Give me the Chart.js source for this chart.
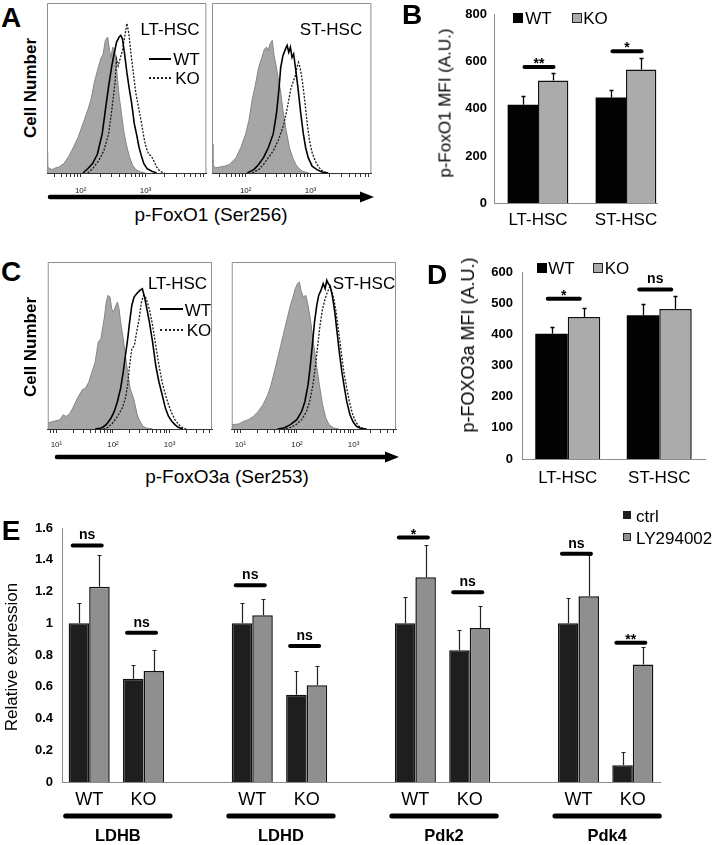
<!DOCTYPE html>
<html>
<head>
<meta charset="utf-8">
<title>p-FoxO figure</title>
<script src="https://cdn.jsdelivr.net/npm/chart.js@4.4.1/dist/chart.umd.min.js"></script>
<style>
    body { margin: 0; background: #fff; }
    #figure { position: relative; width: 714px; height: 845px; overflow: hidden; font-family: 'Liberation Sans', Arial, sans-serif; color: #000; }
    #figure canvas, #figure svg { position: absolute; }
    .txt { position: absolute; transform: translate(-50%, -50%); line-height: 1; white-space: nowrap; }
    .vert { transform: translate(-50%, -50%) rotate(-90deg); }
    .left { transform: translate(0, -50%); }
    .panel { font-size: 28px; font-weight: bold; }
    .f17 { font-size: 17px; }
    .f19 { font-size: 19px; }
    .sw { position: absolute; box-sizing: border-box; }
</style>
</head>
<body>
<div id="figure">
    <svg width="714" height="845" style="left:0;top:0">
        <line x1="50" y1="197" x2="364" y2="197" stroke="#000" stroke-width="4.5" stroke-linecap="round"/>
        <polygon points="374,197 360,191.5 360,202.5" fill="#000"/>
        <line x1="57" y1="457" x2="389" y2="457" stroke="#000" stroke-width="4.5" stroke-linecap="round"/>
        <polygon points="399,457 385,451.5 385,462.5" fill="#000"/>
    </svg>

    <canvas id="foxo1Lt" width="167" height="200" style="left:46px;top:2px"></canvas>
    <canvas id="foxo1St" width="167" height="200" style="left:211px;top:2px"></canvas>
    <canvas id="foxo3Lt" width="172" height="200" style="left:44px;top:261px"></canvas>
    <canvas id="foxo3St" width="172" height="200" style="left:228px;top:261px"></canvas>
    <canvas id="foxo1Mfi" width="314" height="240" style="left:400px;top:0px"></canvas>
    <canvas id="foxo3Mfi" width="314" height="255" style="left:400px;top:245px"></canvas>
    <canvas id="expression" width="714" height="345" style="left:0px;top:500px"></canvas>

    <!-- panel letters -->
    <div class="txt panel" style="left:11px;top:18px">A</div>
    <div class="txt panel" style="left:412px;top:15px">B</div>
    <div class="txt panel" style="left:11px;top:272px">C</div>
    <div class="txt panel" style="left:437px;top:275px">D</div>
    <div class="txt panel" style="left:11px;top:531px">E</div>

    <!-- A -->
    <div class="txt vert" style="left:30px;top:88px;font-size:17px;font-weight:bold">Cell Number</div>
    <div class="txt f17" style="left:170px;top:28.5px">LT-HSC</div>
    <div class="txt f17" style="left:331px;top:28.5px">ST-HSC</div>
    <div class="sw" style="left:149px;top:58px;width:22px;border-top:2px solid #000"></div>
    <div class="txt f17" style="left:186.5px;top:59px">WT</div>
    <div class="sw" style="left:149px;top:77px;width:22px;border-top:2px dotted #222"></div>
    <div class="txt f17" style="left:187.5px;top:78px">KO</div>
    <div class="txt f19" style="left:211px;top:214px">p-FoxO1 (Ser256)</div>

    <!-- C -->
    <div class="txt vert" style="left:30px;top:347px;font-size:17px;font-weight:bold">Cell Number</div>
    <div class="txt f17" style="left:177.5px;top:282.5px">LT-HSC</div>
    <div class="txt f17" style="left:364px;top:282.5px">ST-HSC</div>
    <div class="sw" style="left:160px;top:308px;width:23px;border-top:2px solid #000"></div>
    <div class="txt f17" style="left:198px;top:309.5px">WT</div>
    <div class="sw" style="left:160px;top:329px;width:23px;border-top:2px dotted #222"></div>
    <div class="txt f17" style="left:199px;top:330px">KO</div>
    <div class="txt f19" style="left:227px;top:475.5px">p-FoxO3a (Ser253)</div>

    <!-- B -->
    <div class="txt vert" style="left:445px;top:103px;font-size:17px">p-FoxO1 MFI (A.U.)</div>
    <div class="sw" style="left:513px;top:13px;width:10px;height:10px;background:#000"></div>
    <div class="txt f17" style="left:538.5px;top:18px">WT</div>
    <div class="sw" style="left:572px;top:13px;width:10px;height:10px;background:#ababab;border:1px solid #222"></div>
    <div class="txt f17" style="left:595.5px;top:18px">KO</div>

    <!-- D -->
    <div class="txt vert" style="left:468px;top:345px;font-size:18px">p-FOXO3a MFI (A.U.)</div>
    <div class="sw" style="left:537px;top:263px;width:10px;height:10px;background:#000"></div>
    <div class="txt f17" style="left:561.5px;top:268px">WT</div>
    <div class="sw" style="left:593px;top:263px;width:10px;height:10px;background:#ababab;border:1px solid #222"></div>
    <div class="txt f17" style="left:617px;top:268px">KO</div>

    <!-- E -->
    <div class="txt vert" style="left:11px;top:657px;font-size:17px">Relative expression</div>
    <div class="sw" style="left:623px;top:511px;width:8px;height:8px;background:#1e1e1e"></div>
    <div class="txt left f17" style="left:636px;top:516px">ctrl</div>
    <div class="sw" style="left:623px;top:533px;width:8px;height:8px;background:#8f8f8f;border:1px solid #222"></div>
    <div class="txt left f17" style="left:636px;top:538px">LY294002</div>
</div>

<script>
const family = "'Liberation Sans', Arial, sans-serif"

// ---- flow histograms: [log10 intensity, % of max height] ----
const foxo1LtIso = [[1.48, 12], [1.49, 5], [1.5, 3], [1.56, 2], [1.61, 3], [1.663, 3.5], [1.738, 5.5], [1.812, 9.5], [1.886, 15], [1.96, 21], [2.035, 29], [2.109, 37], [2.158, 43], [2.208, 53], [2.257, 60], [2.307, 67], [2.347, 70], [2.381, 78], [2.416, 80], [2.446, 72], [2.465, 68], [2.495, 74], [2.52, 73], [2.545, 67], [2.564, 57], [2.594, 45], [2.629, 35], [2.663, 25], [2.703, 17], [2.752, 9.5], [2.802, 4.5], [2.851, 2], [2.926, 0.6], [3.0, 0]]
const foxo1LtWt = [[2.035, 0], [2.109, 2.5], [2.183, 5.5], [2.257, 11], [2.332, 23], [2.381, 37], [2.431, 51], [2.48, 63], [2.515, 70], [2.554, 77], [2.594, 80], [2.619, 81], [2.644, 79], [2.678, 70], [2.713, 59], [2.752, 49], [2.787, 41], [2.827, 29], [2.861, 23], [2.901, 15], [2.941, 9.5], [2.975, 5.5], [3.025, 2.5], [3.099, 1], [3.173, 0]]
const foxo1LtKo = [[2.109, 0], [2.183, 2.5], [2.282, 7.5], [2.356, 13], [2.431, 23], [2.48, 37], [2.53, 53], [2.554, 67], [2.579, 63], [2.614, 68], [2.644, 72], [2.678, 80], [2.713, 88], [2.743, 82], [2.777, 70], [2.812, 59], [2.851, 47], [2.901, 37], [2.941, 29], [2.975, 21], [3.01, 15], [3.05, 11], [3.089, 10], [3.124, 7.5], [3.173, 3.5], [3.223, 1], [3.297, 0]]

const foxo1StIso = [[1.482, 17], [1.495, 5], [1.525, 3], [1.6, 3.5], [1.675, 4], [1.75, 5], [1.85, 9], [1.925, 15], [2.0, 23], [2.05, 31], [2.1, 43], [2.15, 52], [2.2, 62], [2.25, 68], [2.29, 73], [2.325, 74], [2.35, 72], [2.375, 76], [2.41, 78], [2.435, 70], [2.465, 64], [2.5, 56], [2.535, 49], [2.575, 37], [2.625, 25], [2.675, 15], [2.725, 9], [2.775, 5], [2.825, 2.5], [2.875, 1], [2.975, 0]]
const foxo1StWt = [[2.025, 0], [2.125, 2], [2.2, 5], [2.275, 9], [2.35, 15], [2.425, 23], [2.475, 35], [2.515, 50], [2.54, 62], [2.575, 69], [2.615, 73], [2.64, 75], [2.665, 71], [2.69, 74], [2.715, 68], [2.74, 70], [2.775, 60], [2.81, 49], [2.85, 35], [2.89, 23], [2.925, 15], [2.965, 9], [3.025, 4], [3.1, 2], [3.175, 0.6], [3.275, 0]]
const foxo1StKo = [[2.1, 0], [2.2, 2], [2.275, 5], [2.35, 9], [2.425, 13], [2.5, 19], [2.575, 27], [2.625, 35], [2.665, 43], [2.7, 50], [2.735, 54], [2.765, 57], [2.79, 62], [2.815, 65], [2.84, 62], [2.875, 54], [2.91, 43], [2.95, 29], [2.985, 19], [3.025, 12], [3.075, 7], [3.125, 3.5], [3.175, 1.5], [3.25, 0]]

const foxo3LtIso = [[0.85, 3.6], [0.949, 4.6], [1.062, 5.5], [1.12, 8.5], [1.17, 7.5], [1.232, 9], [1.288, 12.5], [1.373, 18.5], [1.458, 23.5], [1.514, 24.5], [1.571, 28], [1.627, 34], [1.684, 40], [1.74, 52], [1.785, 54], [1.825, 62], [1.853, 68], [1.881, 76], [1.91, 80], [1.949, 79], [1.977, 72], [2.011, 70], [2.051, 74], [2.079, 76], [2.107, 72], [2.136, 64], [2.181, 54], [2.22, 44], [2.26, 34], [2.305, 24], [2.362, 18.5], [2.39, 14.5], [2.429, 8.5], [2.475, 4.6], [2.531, 1.6], [2.588, 0.6], [2.701, 0]]
const foxo3LtWt = [[1.684, 0], [1.797, 0.6], [1.881, 2.6], [1.966, 6.6], [2.023, 10.5], [2.079, 16.5], [2.136, 24.5], [2.181, 34], [2.22, 44], [2.26, 54], [2.294, 64], [2.333, 74], [2.373, 79], [2.418, 81], [2.475, 83], [2.52, 84], [2.559, 79], [2.599, 72], [2.644, 64], [2.701, 52], [2.757, 38], [2.814, 28], [2.87, 20.5], [2.927, 12.5], [2.983, 7.5], [3.04, 4.6], [3.096, 2.6], [3.153, 1], [3.237, 0]]
const foxo3LtKo = [[1.825, 0], [1.91, 1], [1.994, 3.6], [2.079, 7.5], [2.164, 12.5], [2.22, 18.5], [2.26, 26.4], [2.294, 38], [2.333, 48], [2.379, 50], [2.418, 58], [2.463, 66], [2.503, 76], [2.542, 80], [2.576, 79], [2.616, 75], [2.655, 70], [2.701, 62], [2.757, 50], [2.814, 38], [2.87, 28], [2.927, 20.5], [2.983, 14.5], [3.04, 9.5], [3.096, 5.6], [3.153, 3], [3.209, 1.2], [3.294, 0]]

const foxo3StIso = [[0.85, 2.6], [0.971, 3], [1.057, 4.6], [1.142, 5.6], [1.228, 7.5], [1.313, 10.5], [1.399, 14.5], [1.484, 20.5], [1.541, 26.4], [1.598, 34], [1.655, 42], [1.712, 50], [1.769, 58], [1.826, 66], [1.883, 74], [1.929, 79], [1.969, 84], [2.008, 87], [2.043, 88], [2.071, 83], [2.111, 79], [2.157, 80], [2.196, 74], [2.236, 66], [2.282, 54], [2.339, 40], [2.396, 26.4], [2.453, 14.5], [2.51, 6.6], [2.567, 2.6], [2.652, 0.6], [2.738, 0]]
const foxo3StWt = [[1.655, 0], [1.769, 0.6], [1.883, 2.6], [1.997, 5.6], [2.083, 10.5], [2.14, 16.5], [2.196, 26.4], [2.236, 38], [2.271, 50], [2.31, 64], [2.35, 74], [2.384, 80], [2.424, 83], [2.464, 87], [2.498, 84], [2.527, 89], [2.555, 87], [2.584, 86], [2.624, 80], [2.669, 70], [2.709, 58], [2.749, 46], [2.795, 34], [2.84, 24.5], [2.88, 16.5], [2.937, 8.5], [2.994, 4.2], [3.051, 1.6], [3.137, 0.2], [3.222, 0]]
const foxo3StKo = [[1.741, 0], [1.855, 0.6], [1.969, 2.2], [2.083, 5.6], [2.168, 10.5], [2.225, 16.5], [2.282, 26.4], [2.327, 38], [2.367, 50], [2.407, 62], [2.453, 72], [2.498, 78], [2.538, 82], [2.578, 85], [2.612, 83], [2.652, 78], [2.692, 70], [2.738, 58], [2.783, 46], [2.829, 34], [2.88, 24.5], [2.926, 16.5], [2.977, 9.5], [3.034, 4.6], [3.091, 1.8], [3.165, 0.4], [3.251, 0]]

// ---- MFI bar charts (B, D) ----
const hscTypes = ['LT-HSC', 'ST-HSC']
const foxo1Wt = [418, 448]
const foxo1WtErr = [35, 32]
const foxo1Ko = [521, 567]
const foxo1KoErr = [30, 48]
const foxo1Sig = [578, 645]
const foxo1SigText = ['**', '*']

const foxo3Wt = [402, 461]
const foxo3WtErr = [23, 36]
const foxo3Ko = [456, 481]
const foxo3KoErr = [28, 43]
const foxo3Sig = [514, 544]
const foxo3SigText = ['*', 'ns']

// ---- relative expression (E) ----
const genes = ['LDHB', 'LDHD', 'Pdk2', 'Pdk4']
const genotypes = ['WT', 'KO']
const ctrlExpr = [1.0, 0.65, 1.0, 0.55, 1.0, 0.83, 1.0, 0.105]
const ctrlErr = [0.125, 0.09, 0.125, 0.15, 0.165, 0.13, 0.16, 0.085]
const lyExpr = [1.23, 0.70, 1.05, 0.61, 1.29, 0.97, 1.17, 0.74]
const lyErr = [0.2, 0.13, 0.1, 0.12, 0.2, 0.14, 0.26, 0.11]
const exprSig = [1.49, 0.94, 1.24, 0.856, 1.54, 1.196, 1.438, 0.877]
const exprSigText = ['ns', 'ns', 'ns', 'ns', '*', 'ns', 'ns', '**']

const superscripts = ['\u2070', '\u00b9', '\u00b2', '\u00b3']

function toXY(pairs) {
    return pairs.map(([x, y]) => ({ x, y }))
}

// log ticks: 1..9 x 10^n, labelled only at the decades
function logTicks(min, max) {
    const out = []
    for (let n = 0; n <= 3; n++) {
        for (let k = 1; k <= 9; k++) {
            const v = n + Math.log10(k)
            if (v >= min && v <= max) out.push({ value: v })
        }
    }
    return out
}

const flowBox = {
    id: 'flowBox',
    afterDatasetsDraw(chart) {
        const { ctx, chartArea: a } = chart
        ctx.save()
        ctx.strokeStyle = '#8f8f8f'
        ctx.lineWidth = 1
        ctx.beginPath()
        ctx.moveTo(a.left + 0.5, a.bottom)
        ctx.lineTo(a.left + 0.5, a.top + 0.5)
        ctx.lineTo(a.right - 0.5, a.top + 0.5)
        ctx.lineTo(a.right - 0.5, a.bottom)
        ctx.stroke()
        ctx.restore()
    }
}

function drawHistogram(canvasId, min, max, boxH, labelPad, iso, wt, ko) {
    const canvas = document.getElementById(canvasId)
    new Chart(canvas, {
        type: 'line',
        data: {
            datasets: [
                { data: toXY(iso), fill: 'origin', backgroundColor: '#a6a6a6', borderColor: '#858585', borderWidth: 1, order: 3 },
                { data: toXY(wt), borderColor: '#000', borderWidth: 1.6, order: 1 },
                { data: toXY(ko), borderColor: '#1a1a1a', borderWidth: 1.3, borderDash: [2, 1.5], order: 2 },
            ]
        },
        options: {
            responsive: false,
            animation: false,
            elements: { point: { radius: 0 }, line: { tension: 0 } },
            layout: { padding: { left: 1, right: 1, top: 1, bottom: 0 } },
            plugins: { legend: { display: false }, tooltip: { enabled: false } },
            scales: {
                x: {
                    type: 'linear',
                    min: min,
                    max: max,
                    bounds: 'data',
                    afterBuildTicks: scale => { scale.ticks = logTicks(min, max) },
                    afterFit: scale => { scale.height = canvas.height - 1 - boxH },
                    grid: { drawOnChartArea: false, drawTicks: true, tickLength: 4, color: '#333' },
                    border: { color: '#333', width: 1 },
                    ticks: {
                        autoSkip: false,
                        maxRotation: 0,
                        padding: labelPad,
                        color: '#222',
                        font: { family, size: 8 },
                        callback: v => Math.abs(v - Math.round(v)) < 1e-9 ? '10' + superscripts[Math.round(v)] : ''
                    }
                },
                y: { display: false, min: 0, max: 100 }
            }
        },
        plugins: [flowBox]
    })
}

drawHistogram('foxo1Lt', 1.48, 3.94, 170, 9, foxo1LtIso, foxo1LtWt, foxo1LtKo)
drawHistogram('foxo1St', 1.48, 3.94, 170, 9, foxo1StIso, foxo1StWt, foxo1StKo)
drawHistogram('foxo3Lt', 0.846, 3.752, 167, 7, foxo3LtIso, foxo3LtWt, foxo3LtKo)
drawHistogram('foxo3St', 0.846, 3.752, 167, 7, foxo3StIso, foxo3StWt, foxo3StKo)

// error bars, significance bars and group underlines for the bar charts
const barExtras = {
    id: 'barExtras',
    afterDatasetsDraw(chart, args, opts) {
        const { ctx, chartArea: a, scales: { x, y } } = chart
        ctx.save()

        if (opts.xLineEnd) {
            ctx.strokeStyle = '#8c8c8c'
            ctx.lineWidth = 1
            ctx.beginPath()
            ctx.moveTo(a.left, a.bottom + 0.5)
            ctx.lineTo(opts.xLineEnd, a.bottom + 0.5)
            ctx.stroke()
        }

        chart.data.datasets.forEach((ds, d) => {
            chart.getDatasetMeta(d).data.forEach((bar, i) => {
                const v = ds.data[i]
                const e = ds.errors[i]
                if (v == null || e == null) return
                const top = Math.round(y.getPixelForValue(v + e)) + 0.5
                const bx = Math.round(bar.x) + 0.5
                ctx.strokeStyle = opts.errColor
                ctx.lineWidth = opts.errWidth
                ctx.beginPath()
                ctx.moveTo(bx, bar.y)
                ctx.lineTo(bx, top)
                ctx.moveTo(bx - 2, top)
                ctx.lineTo(bx + 2, top)
                ctx.stroke()
            })
        })

        ctx.lineCap = 'round'
        ctx.fillStyle = '#000'
        ctx.textAlign = 'center'
        ctx.textBaseline = 'alphabetic'
        ctx.font = 'bold 14px ' + family
        opts.sig.forEach(s => {
            const cx = x.getPixelForTick(s.slot) + opts.sigDx
            const ly = y.getPixelForValue(s.level)
            ctx.strokeStyle = '#000'
            ctx.lineWidth = 4
            ctx.beginPath()
            ctx.moveTo(cx - opts.sigHalf, ly)
            ctx.lineTo(cx + opts.sigHalf, ly)
            ctx.stroke()
            const isStar = s.text.indexOf('*') >= 0
            ctx.fillText(s.text, cx, isStar ? ly + 1 : ly - 6)
        })

        if (opts.groups) {
            ctx.font = 'bold 16.5px ' + family
            ctx.textBaseline = 'middle'
            opts.groups.forEach(g => {
                const x0 = x.getPixelForTick(g.from) - 26
                const x1 = x.getPixelForTick(g.to) + 29
                const ly = a.bottom + 34
                ctx.lineWidth = 5
                ctx.beginPath()
                ctx.moveTo(x0 + 2.5, ly)
                ctx.lineTo(x1 - 2.5, ly)
                ctx.stroke()
                ctx.fillText(g.label, (x0 + x1) / 2, a.bottom + 54)
            })
        }
        ctx.restore()
    }
}

function drawBars(canvasId, cfg) {
    const canvas = document.getElementById(canvasId)
    new Chart(canvas, {
        type: 'bar',
        data: {
            labels: cfg.labels,
            datasets: cfg.series.map(s => ({
                data: s.data,
                errors: s.errors,
                backgroundColor: s.color,
                borderColor: '#111',
                borderWidth: s.border,
                categoryPercentage: cfg.catPct,
                barPercentage: 1,
            }))
        },
        options: {
            responsive: false,
            animation: false,
            layout: { padding: cfg.padding },
            plugins: {
                legend: { display: false },
                tooltip: { enabled: false },
                barExtras: {
                    errColor: cfg.errColor,
                    errWidth: cfg.errWidth,
                    sig: cfg.sig,
                    sigHalf: cfg.sigHalf,
                    sigDx: cfg.sigDx,
                    xLineEnd: cfg.xLineEnd,
                    groups: cfg.groups,
                }
            },
            scales: {
                x: {
                    afterFit: scale => { scale.height = cfg.xHeight },
                    grid: { display: false, drawTicks: false },
                    border: { display: !cfg.xLineEnd, color: '#8c8c8c', width: 1 },
                    ticks: { padding: cfg.xPad, color: '#000', font: { family, size: cfg.xFont }, autoSkip: false, maxRotation: 0 }
                },
                y: {
                    min: 0,
                    max: cfg.yMax,
                    afterFit: scale => { scale.width = cfg.yWidth },
                    grid: { display: false, drawTicks: false },
                    border: { color: '#8c8c8c', width: 1 },
                    ticks: {
                        stepSize: cfg.yStep,
                        padding: cfg.yPad,
                        color: '#000',
                        font: { family, size: 13, weight: 'bold' },
                        callback: v => String(+v.toFixed(1))
                    }
                }
            }
        },
        plugins: [barExtras]
    })
}

drawBars('foxo1Mfi', {
    labels: hscTypes,
    series: [
        { data: foxo1Wt, errors: foxo1WtErr, color: '#030303', border: 0 },
        { data: foxo1Ko, errors: foxo1KoErr, color: '#ababab', border: 1.5 },
    ],
    catPct: 0.69,
    padding: { top: 5, right: 44, left: 0, bottom: 0 },
    yWidth: 94, xHeight: 37, xPad: 7, yPad: 7, xFont: 17,
    yMax: 800, yStep: 200,
    errColor: '#000', errWidth: 1.3,
    sig: foxo1Sig.map((level, i) => ({ slot: i, level, text: foxo1SigText[i] })),
    sigHalf: 14.5, sigDx: 1,
    xLineEnd: 258,
})

drawBars('foxo3Mfi', {
    labels: hscTypes,
    series: [
        { data: foxo3Wt, errors: foxo3WtErr, color: '#030303', border: 0 },
        { data: foxo3Ko, errors: foxo3KoErr, color: '#ababab', border: 1.5 },
    ],
    catPct: 0.71,
    padding: { top: 27, right: 9, left: 0, bottom: 0 },
    yWidth: 122, xHeight: 41, xPad: 9, yPad: 9, xFont: 17,
    yMax: 600, yStep: 100,
    errColor: '#000', errWidth: 1.3,
    sig: foxo3Sig.map((level, i) => ({ slot: i, level, text: foxo3SigText[i] })),
    sigHalf: 16, sigDx: -4,
})

// lay the genes out as WT, KO, gap, WT, KO, ...
const exprLabels = []
const ctrlSlots = []
const ctrlErrSlots = []
const lySlots = []
const lyErrSlots = []
const exprSigMarks = []
const geneGroups = []
genes.forEach((gene, g) => {
    if (g > 0) {
        exprLabels.push('')
        ctrlSlots.push(null)
        ctrlErrSlots.push(null)
        lySlots.push(null)
        lyErrSlots.push(null)
    }
    const first = exprLabels.length
    genotypes.forEach((gt, k) => {
        const i = g * genotypes.length + k
        exprLabels.push(gt)
        ctrlSlots.push(ctrlExpr[i])
        ctrlErrSlots.push(ctrlErr[i])
        lySlots.push(lyExpr[i])
        lyErrSlots.push(lyErr[i])
        exprSigMarks.push({ slot: exprLabels.length - 1, level: exprSig[i], text: exprSigText[i] })
    })
    geneGroups.push({ label: gene, from: first, to: first + genotypes.length - 1 })
})

drawBars('expression', {
    labels: exprLabels,
    series: [
        { data: ctrlSlots, errors: ctrlErrSlots, color: '#1e1e1e', border: 1.5 },
        { data: lySlots, errors: lyErrSlots, color: '#8f8f8f', border: 1.5 },
    ],
    catPct: 0.755,
    padding: { top: 28, right: 54, left: 0, bottom: 0 },
    yWidth: 62, xHeight: 63, xPad: 7, yPad: 9, xFont: 18,
    yMax: 1.6, yStep: 0.2,
    errColor: '#222', errWidth: 1.2,
    sig: exprSigMarks,
    sigHalf: 14.5, sigDx: -2,
    groups: geneGroups,
})
</script>
</body>
</html>
